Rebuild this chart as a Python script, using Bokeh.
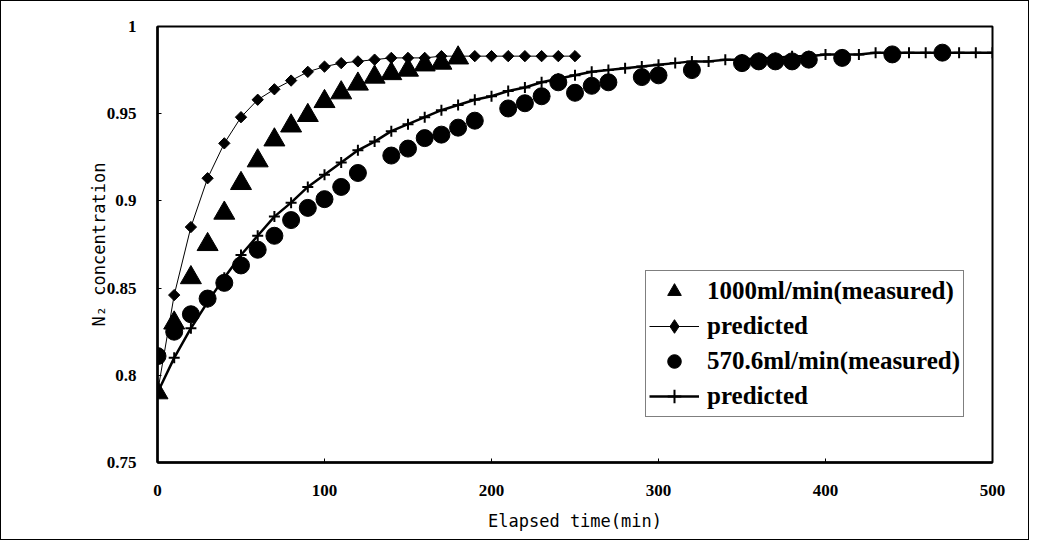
import math
from bokeh.plotting import figure
from bokeh.models import (ColumnDataSource, Legend, LegendItem, FixedTicker,
                          CustomJSTickFormatter)
from bokeh.embed import file_html
from bokeh.resources import INLINE

# ---- data ----
t_1000_meas = [0, 10, 20, 30, 40, 50, 60, 70, 80, 90, 100, 110, 120, 130, 140, 150, 160, 170, 180]
c_1000_meas = [0.790, 0.830, 0.856, 0.875, 0.893, 0.910, 0.923, 0.935, 0.943, 0.949, 0.957,
               0.962, 0.967, 0.971, 0.973, 0.975, 0.978, 0.979, 0.982]

t_1000_pred = [0, 10, 20, 30, 40, 50, 60, 70, 80, 90, 100, 110, 120, 130, 140, 150, 160, 170,
               180, 190, 200, 210, 220, 230, 240, 250]
c_1000_pred = [0.790, 0.846, 0.885, 0.913, 0.933, 0.948, 0.958, 0.964, 0.969, 0.974, 0.977,
               0.979, 0.980, 0.981, 0.982, 0.982, 0.982, 0.983, 0.983, 0.983, 0.983, 0.983,
               0.983, 0.983, 0.983, 0.983]

t_570_meas = [0, 10, 20, 30, 40, 50, 60, 70, 80, 90, 100, 110, 120, 140, 150, 160, 170, 180,
              190, 210, 220, 230, 240, 250, 260, 270, 290, 300, 320, 350, 360, 370, 380, 390,
              410, 440, 470]
c_570_meas = [0.811, 0.825, 0.835, 0.844, 0.853, 0.863, 0.872, 0.880, 0.889, 0.896, 0.901,
              0.908, 0.916, 0.926, 0.930, 0.936, 0.938, 0.942, 0.946, 0.953, 0.956, 0.960,
              0.968, 0.962, 0.966, 0.968, 0.971, 0.972, 0.975, 0.979, 0.980, 0.980, 0.980,
              0.981, 0.982, 0.984, 0.985]

t_570_pred = list(range(0, 501, 10))
c_570_pred = [0.790, 0.810, 0.827, 0.842, 0.856, 0.869, 0.880, 0.891, 0.899, 0.908, 0.915,
              0.922, 0.929, 0.934, 0.940, 0.944, 0.948, 0.952, 0.955, 0.958, 0.960, 0.963,
              0.965, 0.968, 0.970, 0.972, 0.974, 0.975, 0.976, 0.977, 0.978, 0.979, 0.980,
              0.980, 0.981, 0.981, 0.982, 0.982, 0.983, 0.983, 0.984, 0.984, 0.984, 0.985,
              0.985, 0.985, 0.985, 0.985, 0.985, 0.985, 0.985]

y_ticks = [0.75, 0.8, 0.85, 0.9, 0.95, 1.0]
x_ticks = [0, 100, 200, 300, 400, 500]

labels = ["1000ml/min(measured)", "predicted", "570.6ml/min(measured)", "predicted"]

# ---- figure ----
p = figure(width=1029, height=540, x_range=(0, 500), y_range=(0.75, 1.0),
           output_backend="svg", toolbar_location=None,
           min_border_left=156, min_border_right=38, min_border_top=25, min_border_bottom=79)
p.styles = {"border": "1px solid black"}
p.grid.visible = False
p.background_fill_color = "white"
p.border_fill_color = "white"
p.outline_line_color = "black"
p.outline_line_width = 2

s1 = ColumnDataSource(dict(x=t_1000_meas, y=c_1000_meas))
s2 = ColumnDataSource(dict(x=t_1000_pred, y=c_1000_pred))
s3 = ColumnDataSource(dict(x=t_570_meas, y=c_570_meas))
s4 = ColumnDataSource(dict(x=t_570_pred, y=c_570_pred))
s_leg = ColumnDataSource(dict(x=[float("nan")], y=[float("nan")]))

r4l = p.line("x", "y", source=s4, line_color="black", line_width=2.5)
r4m = p.scatter("x", "y", source=s4, marker="cross", size=11, line_color="black", line_width=2)
r2l = p.line("x", "y", source=s2, line_color="black", line_width=1)
r2m = p.scatter("x", "y", source=s2, marker="square", angle=math.pi / 4, size=8,
                fill_color="black", line_color="black")
r2leg = p.scatter("x", "y", source=s_leg, marker="diamond", size=12,
                  fill_color="black", line_color="black")
r3 = p.scatter("x", "y", source=s3, marker="circle", size=17, fill_color="black", line_color="black")
r1 = p.scatter("x", "y", source=s1, marker="triangle", size=21, fill_color="black", line_color="black")

# axes
for ax in (p.xaxis[0], p.yaxis[0]):
    ax.axis_line_width = 2.5
    ax.axis_line_color = "black"
    ax.major_tick_in = 4
    ax.major_tick_out = 0
    ax.major_tick_line_color = "black"
    ax.minor_tick_line_color = None
    ax.major_label_text_color = "black"
    ax.major_label_text_font = "Liberation Serif"
    ax.major_label_text_font_style = "bold"
    ax.major_label_text_font_size = "17px"
    ax.axis_label_text_color = "black"
    ax.axis_label_text_font = "DejaVu Sans Mono"
    ax.axis_label_text_font_style = "normal"
    ax.axis_label_text_font_size = "17px"

p.xaxis.ticker = FixedTicker(ticks=x_ticks)
p.yaxis.ticker = FixedTicker(ticks=y_ticks)
p.yaxis.formatter = CustomJSTickFormatter(code="return String(Math.round(tick*100)/100);")
p.xaxis.major_label_standoff = 22
p.yaxis.major_label_standoff = 21
p.xaxis.axis_label = "Elapsed time(min)"
p.yaxis.axis_label = "N\u2082 concentration"
p.xaxis.axis_label_standoff = 12
p.yaxis.axis_label_standoff = -5

legend = Legend(items=[
    LegendItem(label=labels[0], renderers=[r1]),
    LegendItem(label=labels[1], renderers=[r2l, r2leg]),
    LegendItem(label=labels[2], renderers=[r3]),
    LegendItem(label=labels[3], renderers=[r4l, r4m]),
], location=(488, 45))
legend.border_line_color = "black"
legend.border_line_width = 1
legend.background_fill_color = "white"
legend.background_fill_alpha = 1
legend.label_text_font = "Liberation Serif"
legend.label_text_font_style = "bold"
legend.label_text_font_size = "25px"
legend.label_text_color = "black"
legend.glyph_width = 50
legend.glyph_height = 34
legend.label_height = 30
legend.label_standoff = 8
legend.spacing = 1
legend.padding = 3
legend.margin = 0
p.add_layout(legend, "center")

open("out.html", "w").write(file_html(p, INLINE))
